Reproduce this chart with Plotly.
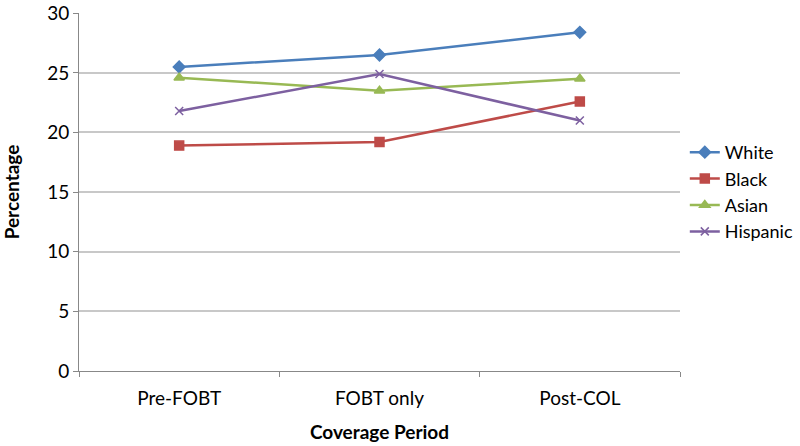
import plotly.graph_objects as go

categories = ["Pre-FOBT", "FOBT only", "Post-COL"]
white = [25.5, 26.5, 28.4]
black = [18.9, 19.2, 22.6]
asian = [24.6, 23.5, 24.5]
hispanic = [21.8, 24.9, 21.0]
y_ticks = [0, 5, 10, 15, 20, 25, 30]

series = [
    ("White", white, "#4A7EBB", "diamond"),
    ("Black", black, "#BE4B48", "square"),
    ("Asian", asian, "#98B954", "triangle-up"),
    ("Hispanic", hispanic, "#7D60A0", "x-thin"),
]

fig = go.Figure()
for name, vals, color, sym in series:
    fig.add_trace(go.Scatter(
        x=categories, y=vals, name=name, mode="lines+markers",
        line=dict(color=color, width=2.5),
        marker=dict(symbol=sym, size=9 if sym != "x-thin" else 8, color=color,
                    line=dict(color=color, width=1.5)),
    ))

font = "Lato, Calibri, sans-serif"
fig.update_layout(
    width=800, height=446,
    margin=dict(l=79, r=120, t=13, b=75),
    paper_bgcolor="white", plot_bgcolor="white",
    font=dict(family=font, size=19, color="#000"),
    legend=dict(xref="container", x=0.856, xanchor="left", y=0.5, yanchor="middle",
                font=dict(size=18), tracegroupgap=0, itemwidth=30),
    showlegend=True,
)
fig.update_xaxes(
    type="category", range=[-0.5, 2.5], tickson="boundaries", ticks="outside", ticklen=5,
    tickcolor="#888", showline=True, linecolor="#888", linewidth=1,
    showgrid=False, tickfont=dict(size=19), automargin=False, ticklabelstandoff=10,
    title=dict(text="<b>Coverage Period</b>", font=dict(size=19), standoff=17),
)
fig.update_yaxes(
    range=[0, 30.02], tickvals=y_ticks, ticks="outside", ticklen=5, tickcolor="#888",
    showline=True, linecolor="#888", linewidth=1, ticklabeloverflow="allow",
    showgrid=True, gridcolor="#C8C8C8", gridwidth=1.5, zeroline=False,
    tickfont=dict(size=19), automargin=False,
    title=dict(text="<b>Percentage</b>", font=dict(size=19), standoff=29),
)
fig.write_html("out.html", config={"displayModeBar": False},
               post_script="document.body.style.margin='0px';")
